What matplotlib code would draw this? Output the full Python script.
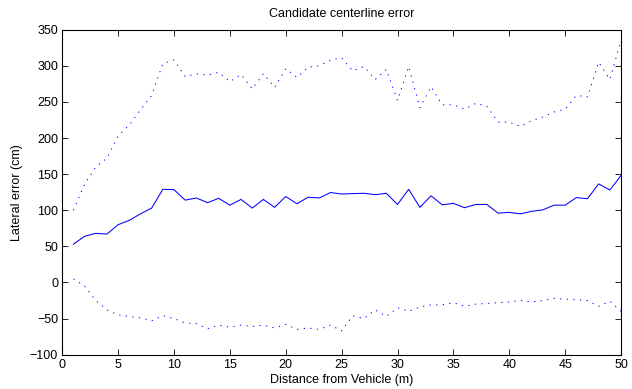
import numpy as np
import matplotlib
matplotlib.use('Agg')
import matplotlib.pyplot as plt

plt.rcParams['font.family'] = ['Liberation Sans', 'DejaVu Sans']

# distance from vehicle (m)
dist = np.arange(1, 51)

# mean lateral error (cm)
mean_err = [53, 64, 68, 67, 80, 86, 95, 103, 129, 128.5,
            114, 117, 110.5, 116.5, 107, 115, 103, 115, 104, 119,
            109, 118, 117, 124.5, 122.5, 123, 123.5, 121.5, 123.5, 108,
            129, 104, 120, 107.5, 109.5, 103.5, 108, 108, 96, 97,
            95, 98.5, 100.5, 107, 107, 117.5, 116, 136.5, 128, 148]

# upper bound (mean + std)
upper_err = [100, 136, 160, 172, 203, 218, 239, 259, 303, 308,
             285, 289, 287, 291, 278, 288, 268, 289, 270, 296,
             284, 298, 300, 308, 311, 293, 299, 281, 295, 252,
             299, 242, 271, 246, 246, 240, 248, 244, 222, 222,
             216, 224, 229, 236, 240, 259, 257, 305, 281, 335]

# lower bound (mean - std)
lower_err = [5, -5, -25, -38, -45, -47, -49, -53, -46, -50,
             -56, -57, -64, -59, -62, -59, -61, -59, -63, -58,
             -65, -63, -65, -59, -67, -46, -50, -38, -47, -35,
             -40, -34, -31, -31, -28, -33, -30, -29, -28, -27,
             -25, -27, -25, -22, -23, -24, -25, -33, -26, -40]

fs = 9

fig = plt.figure(figsize=(6.32, 3.89), dpi=100)
ax = fig.add_axes([0.0985, 0.0882, 0.8841, 0.8355])

ax.plot(dist, upper_err, color='blue', linewidth=0.7, linestyle=(0, (1.3, 5.5)))
ax.plot(dist, mean_err, color='blue', linewidth=0.75)
ax.plot(dist, lower_err, color='blue', linewidth=0.7, linestyle=(0, (1.3, 5.5)))

ax.set_xlim(0, 50)
ax.set_ylim(-100, 350)
ax.set_xticks(np.arange(0, 51, 5))
ax.set_yticks(np.arange(-100, 351, 50))

ax.set_title('Candidate centerline error', fontsize=fs, pad=9)
ax.set_xlabel('Distance from Vehicle (m)', fontsize=fs, labelpad=2)
ax.set_ylabel('Lateral error (cm)', fontsize=fs, labelpad=5)

ax.tick_params(axis='both', which='major', direction='in', length=4, width=0.6,
               labelsize=fs, top=True, right=True, pad=3)
for sp in ax.spines.values():
    sp.set_linewidth(0.8)

fig.savefig('out.png', dpi=100)
plt.close()
